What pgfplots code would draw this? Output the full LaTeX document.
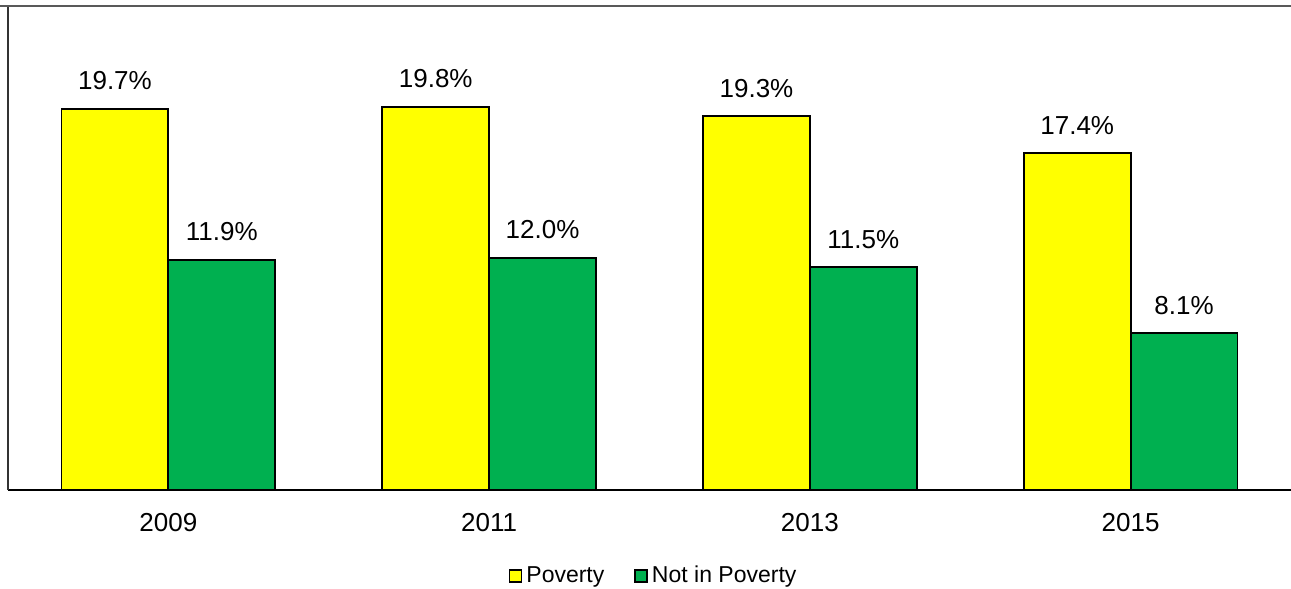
\documentclass[border=0pt]{standalone}
\usepackage{pgfplots}
\pgfplotsset{compat=1.18}
\usepackage{fontspec}
\setmainfont{Liberation Sans}
\definecolor{povy}{HTML}{FFFF00}
\definecolor{povg}{HTML}{00B050}
\begin{document}
\begin{tikzpicture}
\begin{axis}[
  scale only axis,
  width=641.5pt, height=242pt,
  xmin=-0.5, xmax=3.5, ymin=0, ymax=25,
  ybar=0pt, bar width=0.333,
  axis x line*=bottom, axis y line*=left,
  axis line style={black, line width=1pt},
  y axis line style={black!80, line width=0.8pt},
  xtick={0,1,2,3},
  xticklabels={2009,2011,2013,2015},
  ytick=\empty,
  major tick length=0pt,
  xticklabel style={font=\fontsize{13}{15}\selectfont, yshift=-8pt},
  /pgf/number format/assume math mode=true,
  nodes near coords={\pgfmathprintnumber[fixed,fixed zerofill,precision=1]{\pgfplotspointmeta}\%},
  every node near coord/.append style={font=\fontsize{13}{15}\selectfont, black, anchor=south, yshift=5.5pt},
  legend style={at={(0.504,-0.178)}, anchor=center, draw=none, fill=none,
    legend columns=2, font=\fontsize{11.5}{13}\selectfont,
    /tikz/every even column/.append style={column sep=13pt}},
  legend image code/.code={\draw[#1, line width=0.8pt, draw=black] (0pt,-3pt) rectangle (6pt,3pt);},
  clip=false,
]
\addplot[fill=povy, draw=black, line width=0.9pt] coordinates {(0,19.7) (1,19.8) (2,19.3) (3,17.4)};
\addplot[fill=povg, draw=black, line width=0.9pt] coordinates {(0,11.9) (1,12.0) (2,11.5) (3,8.1)};
\legend{Poverty, Not in Poverty}
\end{axis}
\draw[black!65, line width=1.2pt] (-4pt,242pt) -- (641.5pt,242pt);
\pgfresetboundingbox
\path (-4pt,-49.5pt) rectangle (641.5pt,245pt);
\end{tikzpicture}
\end{document}
